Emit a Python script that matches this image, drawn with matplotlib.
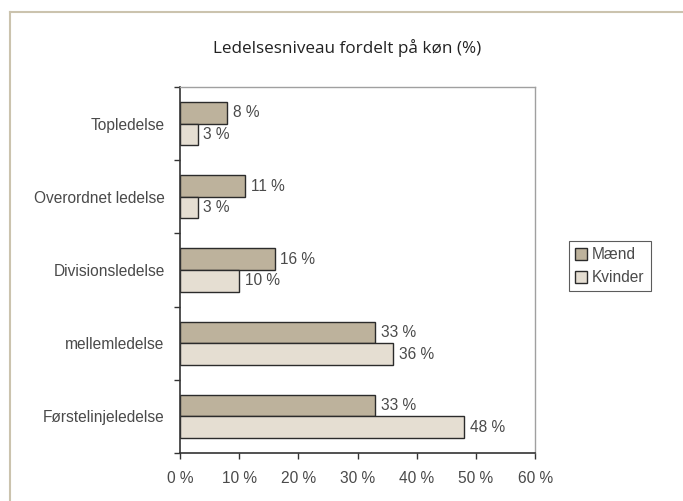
import matplotlib.pyplot as plt
from matplotlib.lines import Line2D
import numpy as np

# Data
categories = ['Topledelse', 'Overordnet ledelse', 'Divisionsledelse',
              'mellemledelse', 'Førstelinjeledelse']
maend = [8, 11, 16, 33, 33]
kvinder = [3, 3, 10, 36, 48]
xticks = [0, 10, 20, 30, 40, 50, 60]

C_MAEND = '#bdb29c'
C_KVINDER = '#e5ded2'
TXT = '#4a4a4a'
FS = 11.2

plt.rcParams['font.family'] = ['Liberation Sans', 'DejaVu Sans']

fig = plt.figure(figsize=(6.83, 5.01), dpi=100)
ax = fig.add_axes([0.2635, 0.0958, 0.52, 0.7305])

y = np.arange(len(categories))
h = 0.295
b1 = ax.barh(y - h / 2, maend, height=h, color=C_MAEND, edgecolor='#2b2b2b',
             linewidth=1, label='Mænd')
b2 = ax.barh(y + h / 2, kvinder, height=h, color=C_KVINDER, edgecolor='#2b2b2b',
             linewidth=1, label='Kvinder')

for bars, vals in ((b1, maend), (b2, kvinder)):
    for bar, v in zip(bars, vals):
        ax.annotate(f'{v} %', (v, bar.get_y() + bar.get_height() / 2),
                    xytext=(4, 0), textcoords='offset points',
                    va='center', ha='left', fontsize=FS, color=TXT)

ax.set_ylim(len(categories) - 0.5, -0.5)
ax.set_xlim(0, 60)
ax.set_xticks(xticks)
ax.set_xticklabels([f'{t} %' for t in xticks], fontsize=FS, color=TXT)
ax.set_yticks(np.arange(len(categories) + 1) - 0.5)
ax.set_yticklabels([])
ax.set_yticks(y, minor=True)
ax.set_yticklabels(categories, minor=True, fontsize=FS, color=TXT)
ax.tick_params(axis='y', which='minor', length=0, pad=11)
ax.tick_params(axis='y', which='major', length=4, width=1, color='#333333')
ax.tick_params(axis='x', length=4, width=1, color='#333333', pad=9)

for s in ('left', 'bottom'):
    ax.spines[s].set_color('#333333')
    ax.spines[s].set_linewidth(1.2)
for s in ('top', 'right'):
    ax.spines[s].set_color('#a0a0a0')
    ax.spines[s].set_linewidth(1)

fig.text(347 / 683, 1 - 48 / 501, 'Ledelsesniveau fordelt på køn (%)',
         fontsize=12.3, color='#222222', ha='center', va='center',
         family=['Open Sans', 'DejaVu Sans'])

leg = ax.legend(loc='center left', bbox_to_anchor=(1.094, 0.51), fontsize=FS,
                frameon=True, fancybox=False, edgecolor='#333333',
                handlelength=0.8, handleheight=0.8, handletextpad=0.3,
                borderpad=0.4, labelspacing=0.5, borderaxespad=0)
leg.get_frame().set_linewidth(0.8)
for t in leg.get_texts():
    t.set_color(TXT)

# outer frame lines
fig.add_artist(Line2D([10 / 683, 1], [1 - 12 / 501, 1 - 12 / 501],
                      color='#cbc3ae', linewidth=1.5))
fig.add_artist(Line2D([10 / 683, 10 / 683], [1 - 12 / 501, 0],
                      color='#cbc3ae', linewidth=1.5))

fig.savefig('out.png', dpi=100)
